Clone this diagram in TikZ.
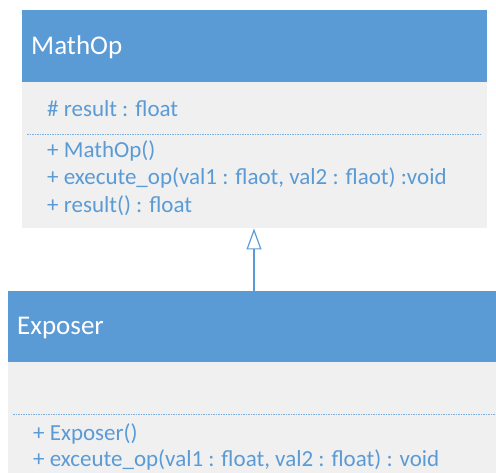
\documentclass[tikz,border=0pt]{standalone}
\usepackage{fontspec}
\setmainfont{Carlito}
\usetikzlibrary{arrows.meta}
\definecolor{umlblue}{HTML}{5B9BD5}
\definecolor{umlbody}{HTML}{F0F0F0}
\definecolor{umltext}{HTML}{5B9BD5}
\tikzset{
  header/.style={fill=umlblue, draw=none, anchor=north west, inner sep=0pt},
  bodybox/.style={fill=umlbody, draw=none, anchor=north west, inner sep=0pt},
  title/.style={anchor=base west, inner sep=0pt, text=white, font=\fontsize{27}{32}\selectfont},
  member/.style={anchor=base west, inner sep=0pt, text=umltext, font=\fontsize{23}{27}\selectfont},
  sep/.style={draw=umlblue!80, dash pattern=on 1.5pt off 1pt, line width=0.6pt},
  inherit/.style={draw=umlblue, line width=1.2pt, -{Triangle[open, length=21pt, width=15pt, line width=1.2pt]}}
}
\begin{document}
\begin{tikzpicture}[x=1pt, y=-1pt]
\useasboundingbox (0,0) rectangle (496,473);
% MathOp
\node[header, minimum width=465pt, minimum height=72pt] (mhead) at (22,10) {};
\node[bodybox, minimum width=465pt, minimum height=146pt] (mbody) at (22,82) {};
\node[title] (mtitle) at (31,55) {MathOp};
\node[member] (mattr) at (47,117) {\# result : float};
\coordinate (msepL) at (27,134);
\coordinate (msepR) at (480,134);
\draw[sep] (msepL) -- (msepR);
\node[member] (mop1) at (47,158) {+ MathOp()};
\node[member] (mop2) at (47,185) {+ execute\_op(val1 : flaot, val2 : flaot) :void};
\node[member] (mop3) at (47,213) {+ result() : float};
% Exposer
\node[header, minimum width=488pt, minimum height=71pt] (ehead) at (8,291) {};
\node[bodybox, minimum width=488pt, minimum height=111pt] (ebody) at (8,362) {};
\node[title] (etitle) at (17,335) {Exposer};
\coordinate (esepL) at (13,414);
\coordinate (esepR) at (496,414);
\draw[sep] (esepL) -- (esepR);
\node[member] (eop1) at (33,440) {+ Exposer()};
\node[member] (eop2) at (33,467) {+ exceute\_op(val1 : float, val2 : float) : void};
% inheritance
\coordinate (arrS) at (254,291);
\coordinate (arrT) at (254,228.5);
\draw[inherit] (arrS) -- (arrT);
\end{tikzpicture}
\end{document}
